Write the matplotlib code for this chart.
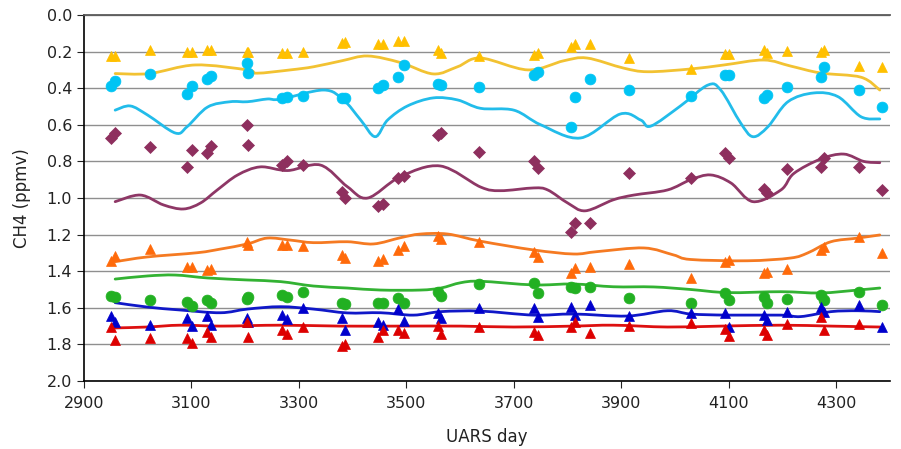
import numpy as np
import matplotlib
matplotlib.use('Agg')
import matplotlib.pyplot as plt
from matplotlib.path import Path
from matplotlib.patches import PathPatch

# ---------------- data ----------------
days = [2950, 2958, 3022, 3092, 3101, 3128, 3137, 3203, 3206, 3269, 3278, 3307,
        3381, 3386, 3447, 3457, 3485, 3495, 3558, 3565, 3636, 3737, 3744, 3806,
        3814, 3841, 3915, 4030, 4093, 4101, 4165, 4172, 4208, 4271, 4278, 4342, 4386]

yellow_pts = [0.225, 0.225, 0.19, 0.20, 0.20, 0.19, 0.19, 0.20, 0.20, 0.21, 0.205, 0.20,
              0.155, 0.15, 0.16, 0.16, 0.14, 0.14, 0.19, 0.21, 0.225, 0.22, 0.21, 0.175,
              0.16, 0.16, 0.235, 0.295, 0.215, 0.215, 0.19, 0.21, 0.197, 0.20, 0.19, 0.28, 0.285]
cyan_pts = [0.39, 0.36, 0.32, 0.43, 0.39, 0.35, 0.333, 0.262, 0.315, 0.453, 0.45, 0.443,
            0.453, 0.453, 0.40, 0.383, 0.337, 0.273, 0.377, 0.383, 0.393, 0.328, 0.31, 0.61,
            0.446, 0.35, 0.41, 0.443, 0.328, 0.328, 0.453, 0.437, 0.393, 0.337, 0.284, 0.41, 0.503]
purple_pts = [0.673, 0.645, 0.72, 0.83, 0.74, 0.754, 0.716, 0.60, 0.71, 0.82, 0.80, 0.82,
              0.965, 1.0, 1.044, 1.033, 0.89, 0.88, 0.656, 0.645, 0.747, 0.80, 0.836, 1.184,
              1.137, 1.137, 0.862, 0.89, 0.754, 0.78, 0.95, 0.973, 0.842, 0.83, 0.78, 0.83, 0.956]
orange_pts = [1.343, 1.317, 1.279, 1.377, 1.377, 1.393, 1.388, 1.239, 1.257, 1.257, 1.257, 1.262,
              1.31, 1.328, 1.343, 1.333, 1.284, 1.262, 1.21, 1.224, 1.239, 1.293, 1.32, 1.408,
              1.383, 1.377, 1.36, 1.437, 1.348, 1.339, 1.41, 1.403, 1.388, 1.284, 1.266, 1.213, 1.30]
green_pts = [1.536, 1.541, 1.557, 1.567, 1.59, 1.557, 1.572, 1.552, 1.54, 1.53, 1.541, 1.512,
             1.574, 1.579, 1.572, 1.572, 1.546, 1.572, 1.512, 1.536, 1.47, 1.464, 1.518, 1.485,
             1.492, 1.485, 1.545, 1.572, 1.519, 1.557, 1.541, 1.574, 1.552, 1.53, 1.557, 1.512, 1.585]
blue_pts = [1.645, 1.676, 1.694, 1.656, 1.70, 1.645, 1.694, 1.656, 1.676, 1.64, 1.661, 1.60,
            1.656, 1.721, 1.676, 1.694, 1.607, 1.67, 1.627, 1.656, 1.60, 1.60, 1.65, 1.596,
            1.64, 1.585, 1.645, 1.628, 1.627, 1.703, 1.64, 1.667, 1.621, 1.594, 1.621, 1.585, 1.703]
red_pts = [1.703, 1.776, 1.765, 1.765, 1.792, 1.73, 1.758, 1.676, 1.758, 1.72, 1.743, 1.705,
           1.81, 1.80, 1.758, 1.72, 1.72, 1.738, 1.70, 1.743, 1.703, 1.73, 1.749, 1.703,
           1.676, 1.736, 1.70, 1.681, 1.716, 1.754, 1.72, 1.749, 1.689, 1.65, 1.72, 1.689, np.nan]

yellow_line_x = [2958, 3022, 3107, 3204, 3222, 3284, 3327, 3380, 3428, 3489, 3550, 3595, 3638,
                 3726, 3793, 3836, 3904, 3949, 4029, 4091, 4165, 4215, 4271, 4346, 4381]
yellow_line_y = [0.32, 0.32, 0.273, 0.30, 0.318, 0.30, 0.283, 0.25, 0.224, 0.26, 0.322, 0.283, 0.235,
                 0.30, 0.25, 0.235, 0.29, 0.31, 0.295, 0.273, 0.246, 0.279, 0.317, 0.34, 0.41]

cyan_line_x = [2958, 2986, 3018, 3070, 3092, 3130, 3172, 3204, 3241, 3266, 3346, 3383, 3415, 3442,
               3465, 3502, 3550, 3595, 3638, 3700, 3750, 3824, 3898, 3936, 3955, 4010, 4061,
               4085, 4122, 4145, 4173, 4210, 4258, 4303, 4346, 4381]
cyan_line_y = [0.52, 0.497, 0.546, 0.645, 0.61, 0.503, 0.474, 0.474, 0.459, 0.46, 0.41, 0.464, 0.574, 0.665,
               0.574, 0.497, 0.453, 0.464, 0.51, 0.52, 0.60, 0.672, 0.541, 0.574, 0.607, 0.497, 0.383,
               0.41, 0.59, 0.665, 0.61, 0.474, 0.426, 0.446, 0.556, 0.568]

purple_line_x = [2958, 3005, 3048, 3085, 3117, 3148, 3186, 3228, 3279, 3340, 3390, 3428, 3489, 3563,
                 3638, 3675, 3737, 3763, 3800, 3833, 3885, 3923, 3986, 4029, 4066, 4104, 4145,
                 4197, 4221, 4271, 4314, 4351, 4381]
purple_line_y = [1.02, 0.984, 1.038, 1.06, 1.027, 0.956, 0.874, 0.83, 0.85, 0.82, 0.938, 1.0, 0.883, 0.825,
                 0.94, 0.96, 0.945, 0.956, 1.027, 1.07, 1.01, 0.984, 0.956, 0.90, 0.874, 0.918, 1.02,
                 0.956, 0.866, 0.787, 0.76, 0.80, 0.807]

orange_line_x = [2958, 3018, 3111, 3154, 3204, 3241, 3284, 3327, 3390, 3439, 3489, 3526, 3577, 3638,
                 3737, 3811, 3855, 3942, 3997, 4029, 4135, 4215, 4247, 4290, 4340, 4381]
orange_line_y = [1.348, 1.322, 1.299, 1.279, 1.251, 1.219, 1.23, 1.244, 1.239, 1.251, 1.217, 1.197, 1.197, 1.236,
                 1.284, 1.306, 1.293, 1.273, 1.311, 1.336, 1.343, 1.328, 1.30, 1.239, 1.219, 1.202]

green_line_x = [2958, 3018, 3070, 3130, 3204, 3266, 3327, 3390, 3452, 3526, 3564, 3601, 3638, 3737,
                3811, 3885, 3960, 4029, 4098, 4197, 4271, 4340, 4381]
green_line_y = [1.443, 1.426, 1.421, 1.437, 1.448, 1.457, 1.481, 1.492, 1.503, 1.503, 1.492, 1.463, 1.455, 1.475,
                1.47, 1.485, 1.486, 1.50, 1.517, 1.512, 1.519, 1.503, 1.492]

blue_line_x = [2958, 3018, 3079, 3154, 3204, 3266, 3327, 3390, 3452, 3513, 3564, 3638, 3737, 3811,
               3911, 3986, 4029, 4098, 4197, 4234, 4290, 4340, 4381]
blue_line_y = [1.572, 1.596, 1.612, 1.627, 1.607, 1.594, 1.607, 1.628, 1.627, 1.64, 1.621, 1.618, 1.64, 1.634,
               1.645, 1.616, 1.634, 1.64, 1.64, 1.648, 1.621, 1.616, 1.621]

red_line_x = [2958, 3018, 3079, 3154, 3266, 3377, 3489, 3601, 3700, 3811, 3885, 3986, 4085, 4197, 4290, 4381]
red_line_y = [1.71, 1.705, 1.695, 1.70, 1.695, 1.70, 1.70, 1.70, 1.705, 1.70, 1.695, 1.705, 1.70, 1.695, 1.70, 1.705]

x_ticks = [2900, 3100, 3300, 3500, 3700, 3900, 4100, 4300]
y_ticks = [0.0, 0.2, 0.4, 0.6, 0.8, 1.0, 1.2, 1.4, 1.6, 1.8, 2.0]

# ---------------- helpers ----------------
def smooth_path(x, y):
    """Excel-like smoothed line: cubic Bezier segments through the knots."""
    p = np.column_stack([x, y]).astype(float)
    n = len(p)
    verts = [p[0]]
    codes = [Path.MOVETO]
    for i in range(n - 1):
        p0 = p[i - 1] if i > 0 else p[i]
        p1 = p[i]
        p2 = p[i + 1]
        p3 = p[i + 2] if i + 2 < n else p[i + 1]
        c1 = p1 + (p2 - p0) / 6.0
        c2 = p2 - (p3 - p1) / 6.0
        verts += [c1, c2, p2]
        codes += [Path.CURVE4] * 3
    return Path(np.array(verts), codes)

plt.rcParams['font.family'] = ['DejaVu Sans']

fig = plt.figure(figsize=(9.01, 4.49), dpi=100)
ax = fig.add_axes([84 / 901, 1 - 381 / 449, 806 / 901, 366 / 449])

series = [
    (yellow_pts, '^', '#FFC000', yellow_line_x, yellow_line_y, '#F2C232'),
    (cyan_pts, 'o', '#00C4F4', cyan_line_x, cyan_line_y, '#22BCEA'),
    (purple_pts, 'D', '#8E2F5E', purple_line_x, purple_line_y, '#8E3766'),
    (orange_pts, '^', '#FF6A0A', orange_line_x, orange_line_y, '#F57A22'),
    (green_pts, 'o', '#22B022', green_line_x, green_line_y, '#33B233'),
    (blue_pts, '^', '#0000CC', blue_line_x, blue_line_y, '#1018C8'),
    (red_pts, '^', '#DD0000', red_line_x, red_line_y, '#DD1010'),
]

for pts, mk, mc, lx, ly, lc in series:
    patch = PathPatch(smooth_path(lx, ly), transform=ax.transData, fill=False,
                      edgecolor=lc, linewidth=2.0, zorder=3, capstyle='round')
    ax.add_patch(patch)

for pts, mk, mc, lx, ly, lc in series:
    ms = 6.2 if mk == 'D' else 7.8
    ax.plot(days, pts, linestyle='none', marker=mk, markersize=ms,
            markerfacecolor=mc, markeredgecolor=mc, markeredgewidth=0.5, zorder=4)

ax.set_xlim(2900, 4400)
ax.set_ylim(2.0, 0.0)
ax.set_xticks(x_ticks)
ax.set_yticks(y_ticks)
ax.set_yticklabels([f'{v:.1f}' for v in y_ticks])
ax.yaxis.grid(True, color='#8f8f8f', linewidth=1.0, zorder=0)
ax.set_axisbelow(True)

ax.spines['right'].set_visible(False)
ax.spines['top'].set_color('#5a5a5a')
ax.spines['top'].set_linewidth(1.3)
ax.spines['left'].set_color('black')
ax.spines['bottom'].set_color('black')
ax.spines['left'].set_linewidth(1.2)
ax.spines['bottom'].set_linewidth(1.2)

ax.tick_params(axis='both', labelsize=11.5, colors='#222222', length=5, width=0.8,
               direction='out')
ax.tick_params(axis='x', pad=6)
ax.set_xlabel('UARS day', fontsize=12, labelpad=12, color='#222222')
ax.set_ylabel('CH4 (ppmv)', fontsize=12, labelpad=11, color='#222222')

fig.savefig('out.png', dpi=100)
